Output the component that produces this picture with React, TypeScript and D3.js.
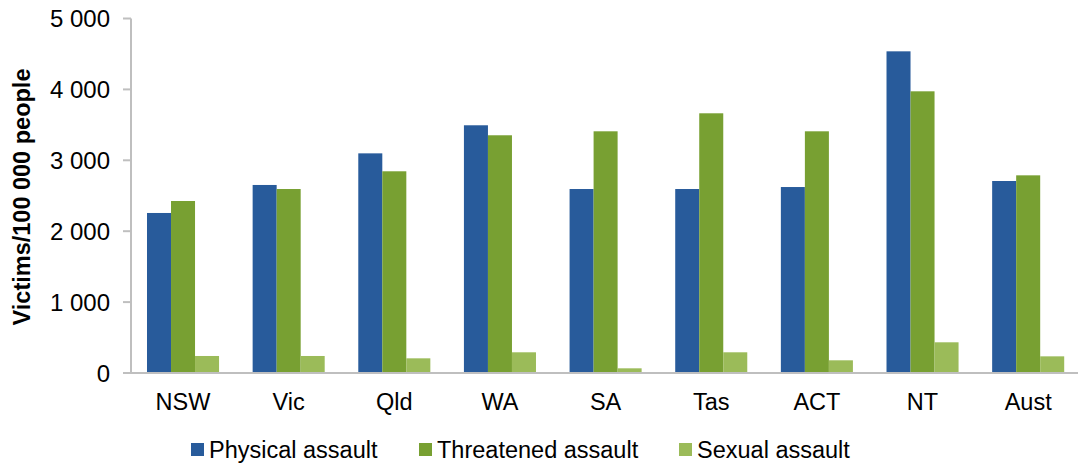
import { useRef, useEffect } from "react";
import * as d3 from "d3";

const regions = ["NSW", "Vic", "Qld", "WA", "SA", "Tas", "ACT", "NT", "Aust"];
const seriesNames = ["Physical assault", "Threatened assault", "Sexual assault"];
const physical = [2257, 2652, 3098, 3494, 2595, 2595, 2623, 4537, 2708];
const threatened = [2426, 2595, 2845, 3353, 3409, 3663, 3409, 3973, 2788];
const sexual = [240, 240, 207, 292, 66, 292, 179, 433, 235];
const yTicks = [0, 1000, 2000, 3000, 4000, 5000];
const colors = ["#285b9b", "#78a032", "#9bbb59"];

const W = 1078;
const H = 464;
const FONT = "'Liberation Sans', Arial, sans-serif";

export default function App() {
  const svgRef = useRef<SVGSVGElement>(null);

  useEffect(() => {
    if (!svgRef.current) return;
    const svg = d3.select(svgRef.current);
    svg.selectAll("*").remove();

    const values = [physical, threatened, sexual];
    const rows = regions.map((r, i) => ({ region: r, vals: values.map((v) => v[i]) }));

    const x = d3.scaleBand<string>()
      .domain(regions)
      .range([130.2, 1081])
      .paddingInner(0.318)
      .paddingOuter(0.159);
    const xs = d3.scaleBand<number>().domain([0, 1, 2]).range([0, x.bandwidth()]);
    const y = d3.scaleLinear().domain([0, 5000]).range([373, 18.5]);

    // bars
    const groups = svg.append("g")
      .selectAll("g")
      .data(rows)
      .join("g")
      .attr("transform", (d) => `translate(${x(d.region)},0)`);
    groups.selectAll("rect")
      .data((d) => d.vals)
      .join("rect")
      .attr("x", (_, i) => xs(i)!)
      .attr("width", xs.bandwidth())
      .attr("y", (d) => y(d))
      .attr("height", (d) => y(0) - y(d))
      .attr("fill", (_, i) => colors[i]);

    // y axis
    const axisColor = "#bfbfbf";
    svg.append("line")
      .attr("x1", 131).attr("x2", 131)
      .attr("y1", y(5000)).attr("y2", y(0))
      .attr("stroke", axisColor).attr("stroke-width", 2);
    svg.append("g").selectAll("line")
      .data(yTicks)
      .join("line")
      .attr("x1", 123).attr("x2", 131)
      .attr("y1", (d) => y(d)).attr("y2", (d) => y(d))
      .attr("stroke", axisColor).attr("stroke-width", 2);
    svg.append("g").selectAll("text")
      .data(yTicks)
      .join("text")
      .attr("x", 110)
      .attr("y", (d) => y(d))
      .attr("dy", "0.36em")
      .attr("text-anchor", "end")
      .attr("font-family", FONT)
      .attr("font-size", 24)
      .attr("fill", "#000")
      .text((d) => d3.format(",")(d).replace(/,/g, " "));

    // x axis
    svg.append("line")
      .attr("x1", 130).attr("x2", W)
      .attr("y1", y(0)).attr("y2", y(0))
      .attr("stroke", axisColor).attr("stroke-width", 2);
    svg.append("g").selectAll("text")
      .data(regions)
      .join("text")
      .attr("x", (d) => x(d)! + x.bandwidth() / 2)
      .attr("y", 410)
      .attr("text-anchor", "middle")
      .attr("font-family", FONT)
      .attr("font-size", 23.5)
      .attr("fill", "#000")
      .text((d) => d);

    // y title
    svg.append("text")
      .attr("transform", `translate(30,197) rotate(-90)`)
      .attr("text-anchor", "middle")
      .attr("font-family", FONT)
      .attr("font-size", 23.5)
      .attr("font-weight", "bold")
      .attr("fill", "#000")
      .text("Victims/100 000 people");

    // legend
    const legendX = [191, 419, 679];
    const leg = svg.append("g").selectAll("g")
      .data(seriesNames)
      .join("g")
      .attr("transform", (_, i) => `translate(${legendX[i]},443)`);
    leg.append("rect")
      .attr("width", 13).attr("height", 13)
      .attr("fill", (_, i) => colors[i]);
    leg.append("text")
      .attr("x", 18)
      .attr("y", 15)
      .attr("font-family", FONT)
      .attr("font-size", 23.5)
      .attr("fill", "#000")
      .text((d) => d);
  }, []);

  return (
    <div style={{ position: "absolute", left: 0, top: 0 }}>
      <svg ref={svgRef} width={W} height={H} style={{ display: "block", background: "#fff" }} />
    </div>
  );
}
